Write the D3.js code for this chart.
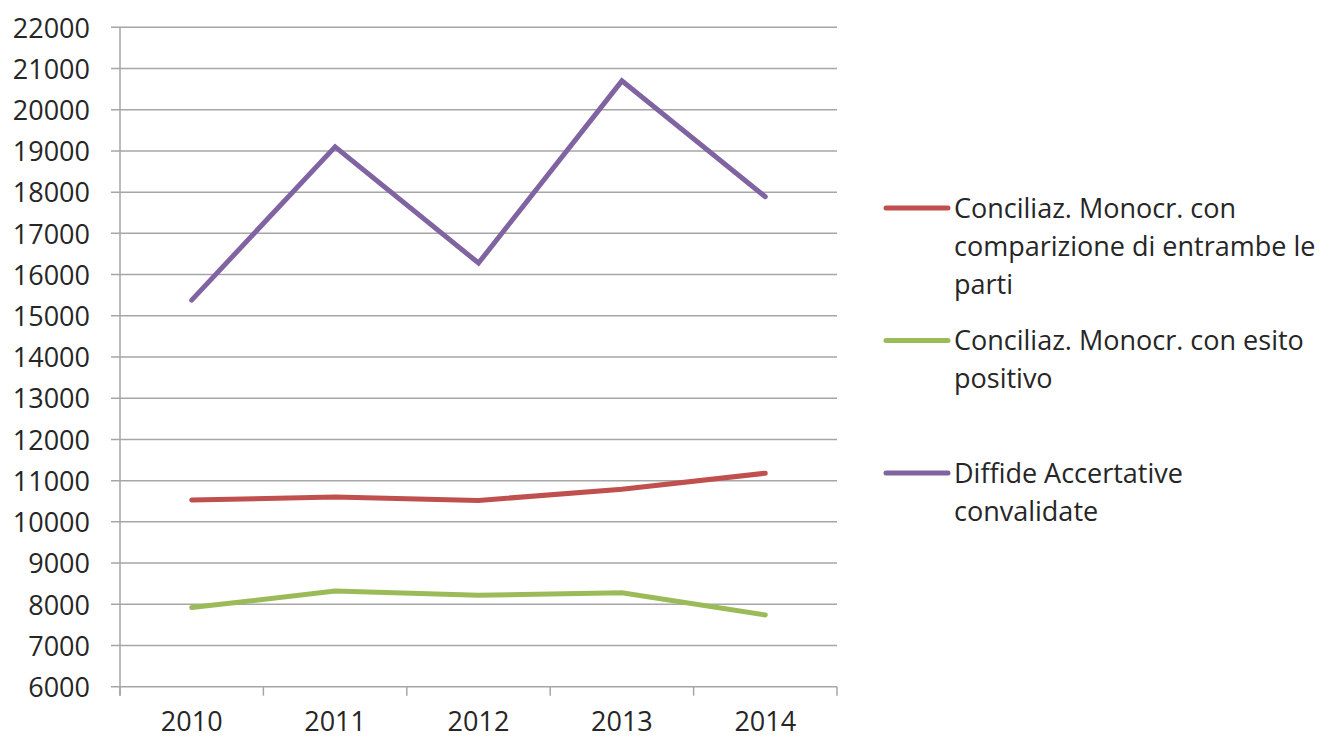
<!DOCTYPE html>
<html lang="en">
<head>
<meta charset="utf-8">
<title>Conciliazioni e diffide</title>
<script src="https://cdnjs.cloudflare.com/ajax/libs/d3/7.8.5/d3.min.js"></script>
<style>
  body { margin: 0; background: #fff; }
  svg text { font-family: "Open Sans", sans-serif; fill: #262626; }
</style>
</head>
<body>
<div id="chart"></div>
<script>
// data
const years = ["2010", "2011", "2012", "2013", "2014"];
const comparizione = [10530, 10600, 10520, 10790, 11180];
const esitoPositivo = [7920, 8320, 8220, 8280, 7740];
const diffide = [15380, 19100, 16280, 20700, 17890];
const yTicks = d3.range(6000, 22001, 1000);

const seriesNames = [
  ["Conciliaz. Monocr. con", "comparizione di entrambe le", "parti"],
  ["Conciliaz. Monocr. con esito", "positivo"],
  ["Diffide Accertative", "convalidate"]
];
const seriesColors = ["#C0504D", "#9BBB59", "#8064A2"];
const seriesValues = [comparizione, esitoPositivo, diffide];

const W = 1323, H = 740;
const plotLeft = 120, plotRight = 837, plotTop = 27.3, plotBottom = 686.7;

const svg = d3.select("#chart").append("svg")
  .attr("width", W).attr("height", H);

const x = d3.scaleBand().domain(years).range([plotLeft, plotRight]);
const y = d3.scaleLinear().domain([6000, 22000]).range([plotBottom, plotTop]);

// gridlines
svg.append("g").selectAll("line")
  .data(yTicks)
  .enter().append("line")
    .attr("x1", plotLeft - 9).attr("x2", plotRight)
    .attr("y1", d => y(d)).attr("y2", d => y(d))
    .attr("stroke", "#a6a6a6").attr("stroke-width", 1.5);

// y axis
const yAxis = d3.axisLeft(y).tickValues(yTicks).tickFormat(d3.format("d"))
  .tickSize(0).tickPadding(30);
const gy = svg.append("g").attr("transform", `translate(${plotLeft},0)`).call(yAxis);
gy.select(".domain").remove();
gy.selectAll("text").attr("font-size", 27).attr("dy", "0.36em");

// axis line + category ticks
svg.append("line")
  .attr("x1", plotLeft).attr("x2", plotLeft)
  .attr("y1", plotTop).attr("y2", plotBottom + 9)
  .attr("stroke", "#a6a6a6").attr("stroke-width", 1.5);

const edges = years.map(d => x(d)).concat([plotRight]);
svg.append("g").selectAll("line")
  .data(edges)
  .enter().append("line")
    .attr("x1", d => d).attr("x2", d => d)
    .attr("y1", plotBottom).attr("y2", plotBottom + 9)
    .attr("stroke", "#a6a6a6").attr("stroke-width", 1.5);

svg.append("g").selectAll("text")
  .data(years)
  .enter().append("text")
    .attr("x", d => x(d) + x.bandwidth() / 2)
    .attr("y", 731)
    .attr("text-anchor", "middle")
    .attr("font-size", 27)
    .text(d => d);

// lines
const line = d3.line()
  .x((d, i) => x(years[i]) + x.bandwidth() / 2)
  .y(d => y(d));

svg.append("g").selectAll("path")
  .data(seriesValues)
  .enter().append("path")
    .attr("d", d => line(d))
    .attr("fill", "none")
    .attr("stroke", (d, i) => seriesColors[i])
    .attr("stroke-width", 5)
    .attr("stroke-linecap", "round")
    .attr("stroke-linejoin", "miter");

// legend
const legendY = [208, 340.5, 473];
const lineGap = 38;
const legend = svg.append("g").selectAll("g")
  .data(seriesNames)
  .enter().append("g")
    .attr("transform", (d, i) => `translate(886,${legendY[i]})`);

legend.append("line")
  .attr("x1", 0).attr("x2", 62)
  .attr("stroke", (d, i) => seriesColors[i])
  .attr("stroke-width", 5)
  .attr("stroke-linecap", "round");

legend.append("text")
  .attr("font-size", 27)
  .selectAll("tspan")
  .data(d => d)
  .enter().append("tspan")
    .attr("x", 68)
    .attr("y", (d, i) => i * lineGap)
    .attr("dy", "0.36em")
    .text(d => d);
</script>
</body>
</html>
